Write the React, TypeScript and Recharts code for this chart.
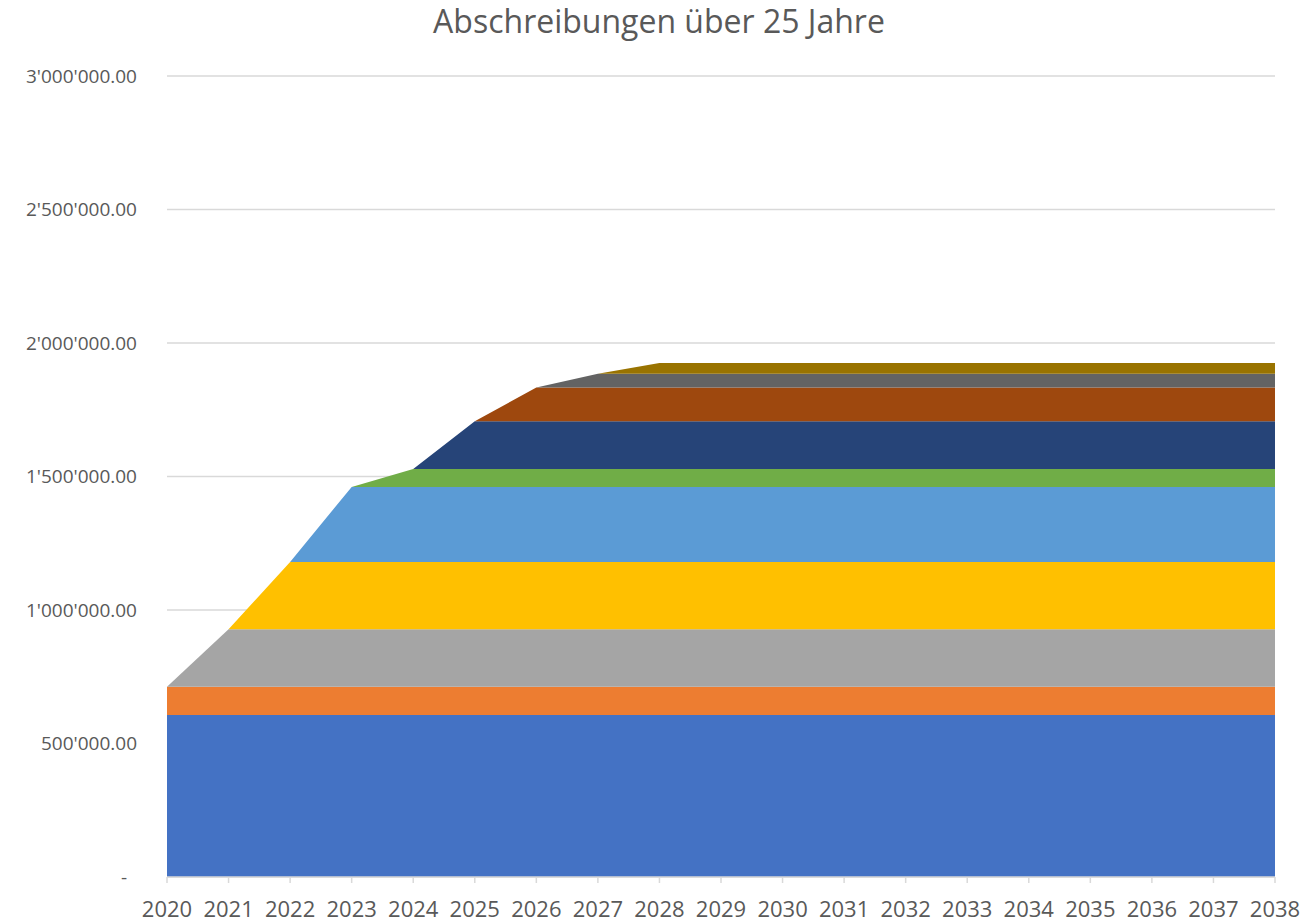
import { Area, AreaChart, CartesianGrid, XAxis, YAxis } from "recharts"

// Jahre der Abschreibung
const years = [
  "2020", "2021", "2022", "2023", "2024", "2025", "2026", "2027", "2028", "2029",
  "2030", "2031", "2032", "2033", "2034", "2035", "2036", "2037", "2038",
]

// jährliche Abschreibung je Investition (ab Startjahr konstant)
const anlage1 = [607000, 607000, 607000, 607000, 607000, 607000, 607000, 607000, 607000, 607000, 607000, 607000, 607000, 607000, 607000, 607000, 607000, 607000, 607000]
const anlage2 = [106000, 106000, 106000, 106000, 106000, 106000, 106000, 106000, 106000, 106000, 106000, 106000, 106000, 106000, 106000, 106000, 106000, 106000, 106000]
const anlage3 = [0, 215000, 215000, 215000, 215000, 215000, 215000, 215000, 215000, 215000, 215000, 215000, 215000, 215000, 215000, 215000, 215000, 215000, 215000]
const anlage4 = [0, 0, 252000, 252000, 252000, 252000, 252000, 252000, 252000, 252000, 252000, 252000, 252000, 252000, 252000, 252000, 252000, 252000, 252000]
const anlage5 = [0, 0, 0, 281000, 281000, 281000, 281000, 281000, 281000, 281000, 281000, 281000, 281000, 281000, 281000, 281000, 281000, 281000, 281000]
const anlage6 = [0, 0, 0, 0, 67000, 67000, 67000, 67000, 67000, 67000, 67000, 67000, 67000, 67000, 67000, 67000, 67000, 67000, 67000]
const anlage7 = [0, 0, 0, 0, 0, 179000, 179000, 179000, 179000, 179000, 179000, 179000, 179000, 179000, 179000, 179000, 179000, 179000, 179000]
const anlage8 = [0, 0, 0, 0, 0, 0, 126000, 126000, 126000, 126000, 126000, 126000, 126000, 126000, 126000, 126000, 126000, 126000, 126000]
const anlage9 = [0, 0, 0, 0, 0, 0, 0, 52000, 52000, 52000, 52000, 52000, 52000, 52000, 52000, 52000, 52000, 52000, 52000]
const anlage10 = [0, 0, 0, 0, 0, 0, 0, 0, 40000, 40000, 40000, 40000, 40000, 40000, 40000, 40000, 40000, 40000, 40000]

const yTicks = [0, 500000, 1000000, 1500000, 2000000, 2500000, 3000000]

const SERIES = [
  { key: "a1", values: anlage1, color: "#4472C4" },
  { key: "a2", values: anlage2, color: "#ED7D31" },
  { key: "a3", values: anlage3, color: "#A5A5A5" },
  { key: "a4", values: anlage4, color: "#FFC000" },
  { key: "a5", values: anlage5, color: "#5B9BD5" },
  { key: "a6", values: anlage6, color: "#70AD47" },
  { key: "a7", values: anlage7, color: "#264478" },
  { key: "a8", values: anlage8, color: "#9E480E" },
  { key: "a9", values: anlage9, color: "#636363" },
  { key: "a10", values: anlage10, color: "#997300" },
]

const data = years.map((year, i) => {
  const row: Record<string, string | number> = { year }
  SERIES.forEach((s) => {
    row[s.key] = s.values[i]
  })
  return row
})

const FONT = "'Open Sans', sans-serif"
const TEXT = "#595959"

// Schweizer Format: 1'500'000.00, Null als "-"
const formatChf = (v: number) => {
  const [int, dec] = v.toFixed(2).split(".")
  return int.replace(/\B(?=(\d{3})+(?!\d))/g, "'") + "." + dec
}

const YTick = ({ x, y, payload }: { x?: number; y?: number; payload?: { value: number } }) => {
  const v = payload?.value ?? 0
  return (
    <text
      x={v === 0 ? (x ?? 0) - 10 : x}
      y={y}
      dy="0.355em"
      textAnchor="end"
      fill={TEXT}
      fontSize={19}
      fontFamily={FONT}
    >
      {v === 0 ? "-" : formatChf(v)}
    </text>
  )
}

export default function App() {
  return (
    <div style={{ position: "absolute", left: 0, top: 0, width: 1306, height: 923, background: "#fff" }}>
      <div
        style={{
          position: "absolute",
          left: 0,
          top: -1,
          width: 1318,
          textAlign: "center",
          fontFamily: FONT,
          fontSize: 32,
          color: TEXT,
        }}
      >
        Abschreibungen über 25 Jahre
      </div>
      <AreaChart
        width={1306}
        height={923}
        data={data}
        margin={{ top: 76, right: 31, bottom: 0, left: 0 }}
      >
        <CartesianGrid vertical={false} stroke="#D9D9D9" strokeWidth={1.5} />
        <XAxis
          dataKey="year"
          height={46}
          stroke="#D9D9D9"
          strokeWidth={1.5}
          tickSize={6}
          tickMargin={18}
          interval={0}
          tick={{ fill: TEXT, fontSize: 22, fontFamily: FONT }}
        />
        <YAxis
          width={167}
          domain={[0, 3000000]}
          ticks={yTicks}
          axisLine={false}
          tickLine={false}
          tickSize={0}
          tickMargin={30}
          tick={<YTick />}
        />
        {SERIES.map((s) => (
          <Area
            key={s.key}
            type="linear"
            dataKey={s.key}
            stackId="1"
            stroke="none"
            fill={s.color}
            fillOpacity={1}
            isAnimationActive={false}
          />
        ))}
      </AreaChart>
    </div>
  )
}
